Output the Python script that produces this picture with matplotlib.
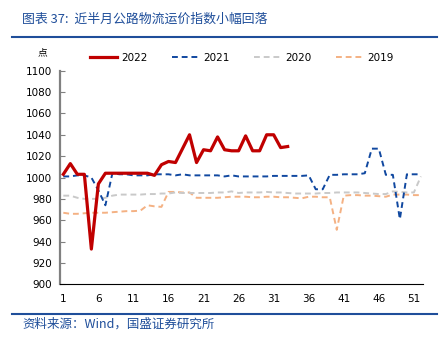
import matplotlib
matplotlib.use("Agg")
import matplotlib.pyplot as plt
from matplotlib.lines import Line2D

# ---- data ----
weeks_2022 = list(range(1, 34))
v2022 = [1003, 1013, 1003, 1003, 933, 994, 1004, 1004, 1004, 1004, 1004, 1004, 1004,
         1002, 1012, 1015, 1014, 1027, 1040, 1014, 1026, 1025, 1038, 1026, 1025, 1025,
         1039, 1025, 1025, 1040, 1040, 1028, 1029]
weeks_full = list(range(1, 53))
v2021 = [1001, 1001, 1002, 1002, 1000, 988, 974, 1004, 1003, 1003,
         1002, 1002, 1002, 1003, 1003, 1003, 1002, 1003, 1002, 1002,
         1002, 1002, 1002, 1001, 1002, 1001, 1001, 1001, 1001, 1001,
         1001.5, 1001.5, 1001.5, 1001.5, 1001.5, 1002, 989, 989, 1002.5, 1002.5,
         1003, 1003, 1003, 1004, 1027, 1027, 1002.5, 1002.5, 961, 1003, 1003, 1003]
v2020 = [983, 983, 981, 980, 980, 980, 981, 983, 984, 984,
         984, 984, 984.5, 984.5, 985, 985, 986, 985.5, 985.5, 985.5,
         985.5, 985.5, 986, 986, 987, 985.5, 986, 986, 986, 986.5,
         986, 986, 985.5, 985, 985, 985, 985, 985.5, 985.5, 986,
         986, 986, 986, 985.5, 985, 984.5, 984.5, 987, 986.5, 986, 986, 1001]
v2019 = [967, 966, 966, 966.5, 967, 967, 967, 967.5, 968, 968.5,
         968.5, 969, 974, 973, 972.5, 986.5, 986.5, 986, 986, 981,
         981, 981, 981, 981.5, 982, 982, 982, 981.5, 981.5, 982,
         982, 981.5, 981.5, 981, 980.5, 982, 982, 981.5, 981.5, 951,
         983, 983.5, 983.5, 983, 983, 982.5, 982, 984, 984, 984, 983.5, 983.5]
xticks = [1, 6, 11, 16, 21, 26, 31, 36, 41, 46, 51]
yticks = list(range(900, 1101, 20))

title = "图表 37:  近半月公路物流运价指数小幅回落"
source = "资料来源：Wind，国盛证券研究所"
unit = "点"

CJK = ["Noto Sans CJK SC", "DejaVu Sans"]
BLUE_T = "#1f4e9a"

fig = plt.figure(figsize=(4.43, 3.5), dpi=100)
ax = fig.add_axes([60.3 / 443, 1 - 284.3 / 350, (423 - 60.3) / 443, (284.3 - 70.7) / 350])

ax.plot(weeks_full, v2019, color="#f4b183", lw=1.4, dashes=(3, 2), label="2019")
ax.plot(weeks_full, v2020, color="#c9c9c9", lw=1.4, dashes=(3, 2), label="2020")
ax.plot(weeks_full, v2021, color="#1048a0", lw=1.4, dashes=(3, 2), label="2021")
ax.plot(weeks_2022, v2022, color="#c00000", lw=2.3, label="2022")

ax.set_xlim(0.57, 52.3)
ax.set_ylim(900, 1100)
ax.set_xticks(xticks)
ax.set_yticks(yticks)
ax.tick_params(axis="x", length=0, pad=7, labelsize=7.5)
ax.tick_params(axis="y", direction="in", length=3.5, width=0.8, color="#808080", pad=6, labelsize=7.5)
for s in ["top", "right"]:
    ax.spines[s].set_visible(False)
ax.spines["left"].set_color("#808080")
ax.spines["left"].set_linewidth(1.6)
ax.spines["bottom"].set_color("#000000")
ax.spines["bottom"].set_linewidth(0.8)

handles, labels = ax.get_legend_handles_labels()
order = [3, 2, 1, 0]
fig.legend([handles[i] for i in order], [labels[i] for i in order],
           loc="center left", bbox_to_anchor=(90 / 443, 1 - 58 / 350), ncol=4,
           frameon=False, fontsize=7.5, handlelength=2.6, handletextpad=0.4,
           columnspacing=2.35, borderpad=0, borderaxespad=0)

fig.text(22 / 443, 1 - 19 / 350, title, family=CJK, fontsize=9.3, color=BLUE_T,
         ha="left", va="center")
fig.text(22 / 443, 1 - 324 / 350, source, family=CJK, fontsize=9, color=BLUE_T,
         ha="left", va="center")
fig.text(42 / 443, 1 - 52 / 350, unit, family=CJK, fontsize=7, color="#000000",
         ha="center", va="center")

fig.add_artist(Line2D([12 / 443, 437 / 443], [1 - 37 / 350, 1 - 37 / 350],
                      color=BLUE_T, lw=1.5, transform=fig.transFigure))
fig.add_artist(Line2D([12 / 443, 437 / 443], [1 - 314 / 350, 1 - 314 / 350],
                      color=BLUE_T, lw=1.5, transform=fig.transFigure))

fig.savefig("out.png", dpi=100)
